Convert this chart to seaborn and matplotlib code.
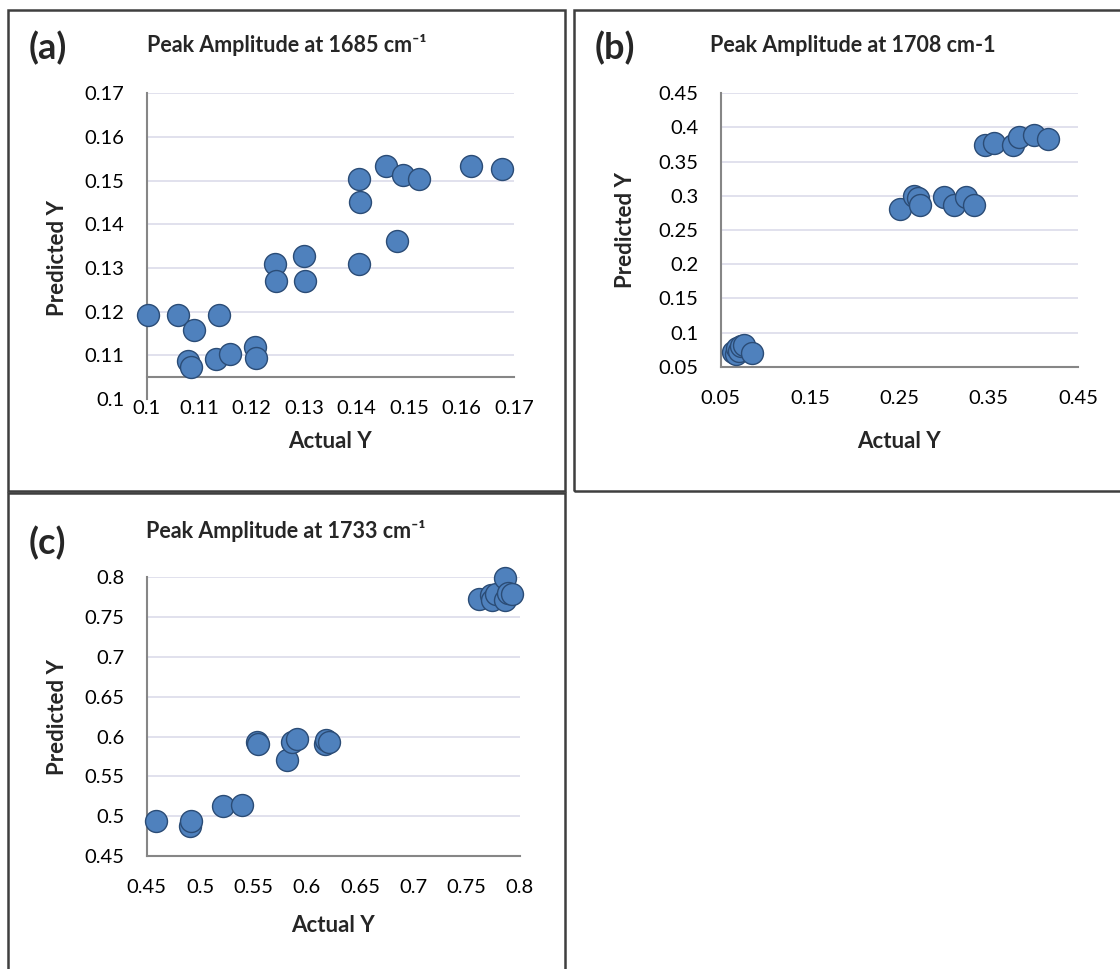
import matplotlib
matplotlib.use("Agg")
import matplotlib.pyplot as plt
from matplotlib.patches import Rectangle
import seaborn as sns
import pandas as pd

# ---- data -------------------------------------------------------------
# (a) peak amplitude at 1685 cm-1
a_actual = [0.1002, 0.1059, 0.1091, 0.1137, 0.1079, 0.1084, 0.1132, 0.1158,
            0.1207, 0.1209, 0.1245, 0.1246, 0.1300, 0.1302, 0.1405, 0.1407,
            0.1405, 0.1477, 0.1456, 0.1489, 0.1518, 0.1618, 0.1678]
a_pred = [0.1192, 0.1192, 0.1158, 0.1192, 0.1087, 0.1073, 0.1091, 0.1102,
          0.1118, 0.1095, 0.1308, 0.1270, 0.1327, 0.1270, 0.1504, 0.1450,
          0.1308, 0.1362, 0.1534, 0.1514, 0.1504, 0.1533, 0.1526]

# (b) peak amplitude at 1708 cm-1
b_actual = [0.064, 0.067, 0.068, 0.071, 0.073, 0.076, 0.085,
            0.2506, 0.2662, 0.2711, 0.2729, 0.3001, 0.3110, 0.3244, 0.3333,
            0.3456, 0.3561, 0.3773, 0.3836, 0.4008, 0.4164]
b_pred = [0.071, 0.068, 0.077, 0.073, 0.080, 0.082, 0.070,
          0.2802, 0.3002, 0.2963, 0.2866, 0.2978, 0.2866, 0.2988, 0.2866,
          0.3744, 0.3768, 0.3744, 0.3856, 0.3890, 0.3827]

# (c) peak amplitude at 1733 cm-1
c_actual = [0.4588, 0.4906, 0.4913, 0.5218, 0.5396, 0.5531, 0.5546, 0.5813,
            0.5859, 0.5906, 0.6172, 0.6180, 0.6212,
            0.7616, 0.7725, 0.7734, 0.7775, 0.7859, 0.7859, 0.7890, 0.7922]
c_pred = [0.4944, 0.4877, 0.4940, 0.5132, 0.5140, 0.5935, 0.5907, 0.5706,
          0.5935, 0.5966, 0.5907, 0.5957, 0.5935,
          0.7724, 0.7778, 0.7715, 0.7790, 0.7987, 0.7715, 0.7799, 0.7786]

a_xticks = [0.10, 0.11, 0.12, 0.13, 0.14, 0.15, 0.16, 0.17]
a_yticks = [0.10, 0.11, 0.12, 0.13, 0.14, 0.15, 0.16, 0.17]
b_xticks = [0.05, 0.15, 0.25, 0.35, 0.45]
b_yticks = [0.05, 0.10, 0.15, 0.20, 0.25, 0.30, 0.35, 0.40, 0.45]
c_xticks = [0.45, 0.50, 0.55, 0.60, 0.65, 0.70, 0.75, 0.80]
c_yticks = [0.45, 0.50, 0.55, 0.60, 0.65, 0.70, 0.75, 0.80]

titles = ["Peak Amplitude at 1685 cm\u207b\u00b9",
          "Peak Amplitude at 1708 cm-1",
          "Peak Amplitude at 1733 cm\u207b\u00b9"]
letters = ["(a)", "(b)", "(c)"]

# ---- style ------------------------------------------------------------
sns.set_theme(style="white")
plt.rcParams["font.family"] = ["Lato", "DejaVu Sans"]

FILL = "#4F81BD"
EDGE = "#2B4C76"
AXIS = "#868686"
GRID = "#DCDCEA"
FRAME = "#3F3F3F"

W, H = 1120, 969
fig = plt.figure(figsize=(W / 100, H / 100), dpi=100)
fig.patch.set_facecolor("white")


def px_axes(left, top, right, bottom):
    return fig.add_axes([left / W, 1 - bottom / H, (right - left) / W, (bottom - top) / H])


def frame(left, top, right, bottom):
    fig.patches.append(Rectangle((left / W, 1 - bottom / H), (right - left) / W,
                                 (bottom - top) / H, transform=fig.transFigure,
                                 fill=False, edgecolor=FRAME, linewidth=1.8))


def panel(ax, xs, ys, xticks, yticks, xlim, ylim, cross=None):
    df = pd.DataFrame({"Actual Y": xs, "Predicted Y": ys})
    sns.scatterplot(data=df, x="Actual Y", y="Predicted Y", ax=ax, s=250,
                    color=FILL, edgecolor=EDGE, linewidth=1.0, zorder=3,
                    clip_on=False)
    ax.set_xlim(*xlim)
    ax.set_ylim(*ylim)
    ax.set_xticks(xticks)
    ax.set_yticks(yticks)
    ax.set_xticklabels([f"{v:g}" for v in xticks])
    ax.set_yticklabels([f"{v:g}" for v in yticks])
    for s in ("top", "right"):
        ax.spines[s].set_visible(False)
    for s in ("left", "bottom"):
        ax.spines[s].set_color(AXIS)
        ax.spines[s].set_linewidth(1.5)
    if cross is not None:
        ax.spines["bottom"].set_position(("data", cross))
    ax.set_axisbelow(True)
    ax.yaxis.grid(True, color=GRID, linewidth=1.2)
    ax.xaxis.grid(False)
    if cross is not None:
        for t, gl in zip(yticks, ax.yaxis.get_gridlines()):
            if t < cross:
                gl.set_visible(False)
    ax.tick_params(axis="both", which="major", direction="out", length=5,
                   width=1.5, color=AXIS, labelsize=14.5, labelcolor="black")
    ax.tick_params(axis="y", pad=11)
    ax.tick_params(axis="x", pad=11.5)
    ax.set_xlabel("Actual Y", fontsize=16, fontweight="bold")
    ax.set_ylabel("Predicted Y", fontsize=16, fontweight="bold")
    ax.set_facecolor("white")


# panel frames
frame(8, 10, 565, 491)
frame(574, 10, 1131, 491)
frame(8, 493, 565, 974)

# (a)
ax_a = px_axes(146.7, 93.3, 514, 399)
panel(ax_a, a_actual, a_pred, a_xticks, a_yticks, (0.10, 0.17), (0.10, 0.17), cross=0.105)
ax_a.xaxis.set_label_coords((330 - 146.7) / (514 - 146.7), 1 - (441 - 93.3) / (399 - 93.3))
ax_a.yaxis.set_label_coords((58 - 146.7) / (514 - 146.7), 1 - (258 - 93.3) / (399 - 93.3))

# (b)
ax_b = px_axes(720.7, 93.3, 1078, 366.7)
panel(ax_b, b_actual, b_pred, b_xticks, b_yticks, (0.05, 0.45), (0.05, 0.45))
ax_b.xaxis.set_label_coords(0.5, 1 - (442 - 93.3) / (366.7 - 93.3))
ax_b.yaxis.set_label_coords((625 - 720.7) / (1078 - 720.7), 0.5)

# (c)
ax_c = px_axes(146.7, 577.3, 520, 856)
panel(ax_c, c_actual, c_pred, c_xticks, c_yticks, (0.45, 0.80), (0.45, 0.80))
ax_c.xaxis.set_label_coords(0.5, 1 - (925 - 577.3) / (856 - 577.3))
ax_c.yaxis.set_label_coords((58 - 146.7) / (520 - 146.7), 0.5)

for ax in (ax_a, ax_b, ax_c):
    ax.xaxis.label.set_va("center")
    ax.yaxis.label.set_va("center")

# titles and panel letters
for (tx, ty), (lx, ly), title, letter in zip(
        [(287, 45), (853, 45), (286, 531)],
        [(48, 48), (615, 48), (47, 543)],
        titles, letters):
    fig.text(tx / W, 1 - ty / H, title, ha="center", va="center",
             fontsize=15.5, fontweight="bold")
    fig.text(lx / W, 1 - ly / H, letter, ha="center", va="center",
             fontsize=26, fontweight="bold")

fig.savefig("out.png", dpi=100, facecolor="white")
